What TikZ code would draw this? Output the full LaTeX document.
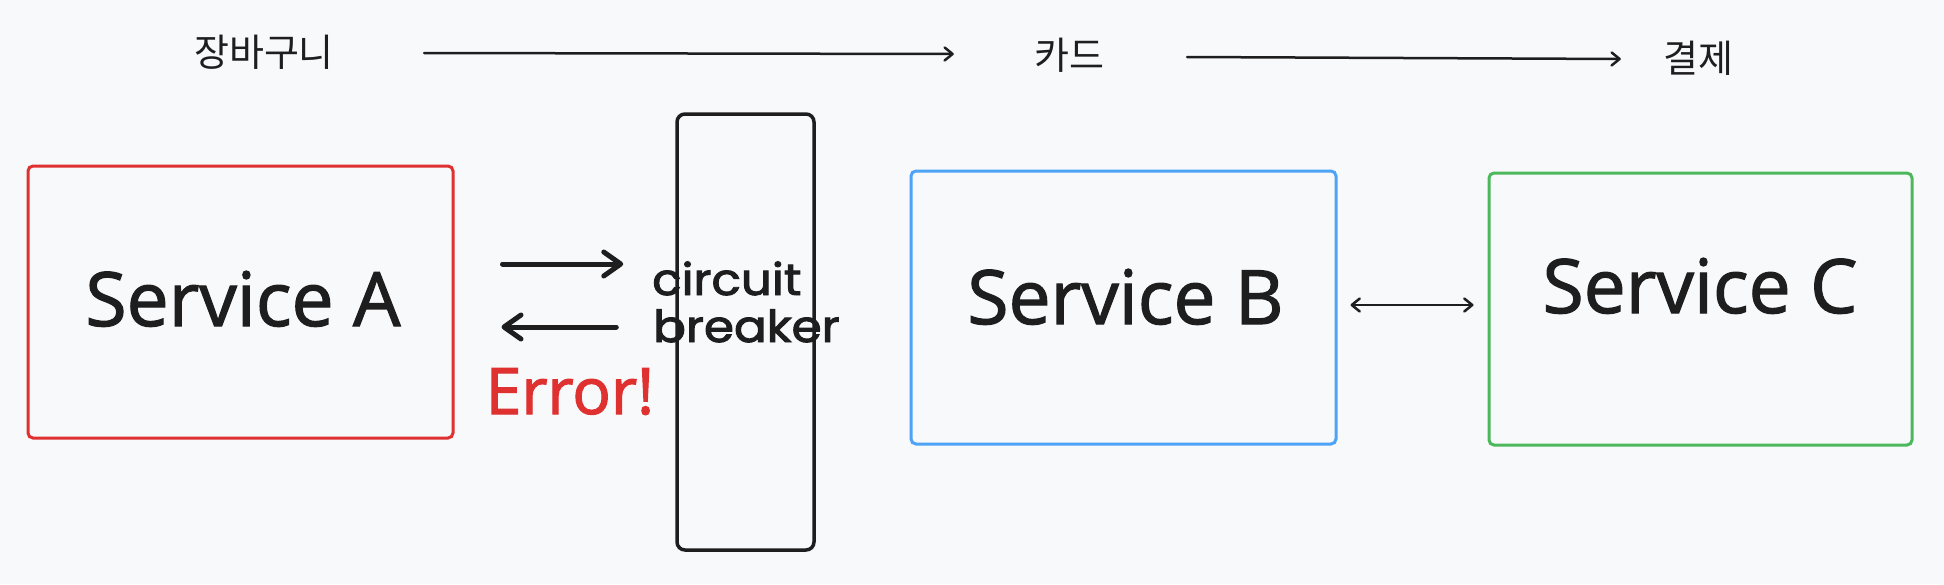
\documentclass[tikz,border=0pt]{standalone}
\usepackage{fontspec}
\usepackage{graphicx}
\setmainfont{Open Sans}
\newfontfamily\svcfont{Open Sans}[FakeBold=1.6]
\newfontfamily\errfont{Open Sans}[FakeBold=1.8]
\newfontfamily\krfont{Noto Sans CJK KR}
\newfontfamily\handfont{Poppins}[FakeBold=2.2]
\usetikzlibrary{arrows.meta,calc}
\definecolor{bg}{HTML}{F8F9FB}
\definecolor{ink}{HTML}{1E1E1E}
\definecolor{cred}{HTML}{E03131}
\definecolor{cblue}{HTML}{4DA3F5}
\definecolor{cgreen}{HTML}{4CB85C}
\begin{document}
\begin{tikzpicture}[x=1pt,y=-1pt,
  box/.style={draw, line width=3pt, rounded corners=5pt, inner sep=0pt},
  svc/.style={font=\svcfont\fontsize{75}{80}\selectfont, text=ink, anchor=base, inner sep=0pt},
  kr/.style={font=\krfont\fontsize{38}{42}\selectfont, text=ink, inner sep=0pt},
  hand/.style={font=\handfont\fontsize{44}{47}\selectfont, text=ink, anchor=base west, inner sep=0pt},
  thinarrow/.style={draw=ink, line width=2.5pt, line cap=round, -{Straight Barb[round,length=8pt,width=13pt]}},
  thinboth/.style={draw=ink, line width=2.5pt, line cap=round, {Straight Barb[round,length=8pt,width=13pt]}-{Straight Barb[round,length=8pt,width=13pt]}},
  thickarrow/.style={draw=ink, line width=5pt, line cap=round, -{Straight Barb[round,length=17pt,width=24pt]}}
]
\fill[bg] (0,0) rectangle (1944,584);
\useasboundingbox (0,0) rectangle (1944,584);

% boxes
\node[box, draw=cred, minimum width=425pt, minimum height=272pt] (A) at (240.5,302) {};
\node[box, draw=cblue, minimum width=425pt, minimum height=273pt] (B) at (1123.5,307.5) {};
\node[box, draw=cgreen, minimum width=423pt, minimum height=272pt] (C) at (1700.5,309) {};
\node[box, draw=ink, line width=3.5pt, rounded corners=8pt, minimum width=137pt, minimum height=436pt] (CB) at (745.5,332) {};

% labels
\node[svc] (tA) at (243,326) {Service A};
\node[svc] (tB) at (1125.5,324) {Service B};
\node[svc] (tC) at (1700,313) {Service C};
\node[font=\errfont\fontsize{64}{70}\selectfont, text=cred, anchor=base, inner sep=0pt] (err) at (570,414) {Error!};
\node[hand] (c1) at (652,295) {\scalebox{1.1}[1]{circuit}};
\node[hand] (c2) at (653,342) {\scalebox{1.1}[1]{breaker}};

% top flow
\node[kr] (jang) at (264,52) {장바구니};
\node[kr] (card) at (1069,55) {카드};
\node[kr] (pay) at (1698,58) {결제};
\draw[thinarrow] ($(jang.east)+(90,1)$) -- ($(card.west)+(-80,-1)$);
\draw[thinarrow] ($(card.east)+(83,2)$) -- ($(pay.west)+(-42,1)$);

% A <-> circuit breaker
\draw[thickarrow] ($(A.east)+(48,-38)$) -- ($(CB.west)+(-52,-68)$);
\draw[thickarrow] ($(CB.west)+(-59,-5)$) -- ($(A.east)+(47,25)$);

% B <-> C
\draw[thinboth] ($(B.east)+(13,-2.5)$) -- ($(C.west)+(-14,-4)$);
\end{tikzpicture}
\end{document}
